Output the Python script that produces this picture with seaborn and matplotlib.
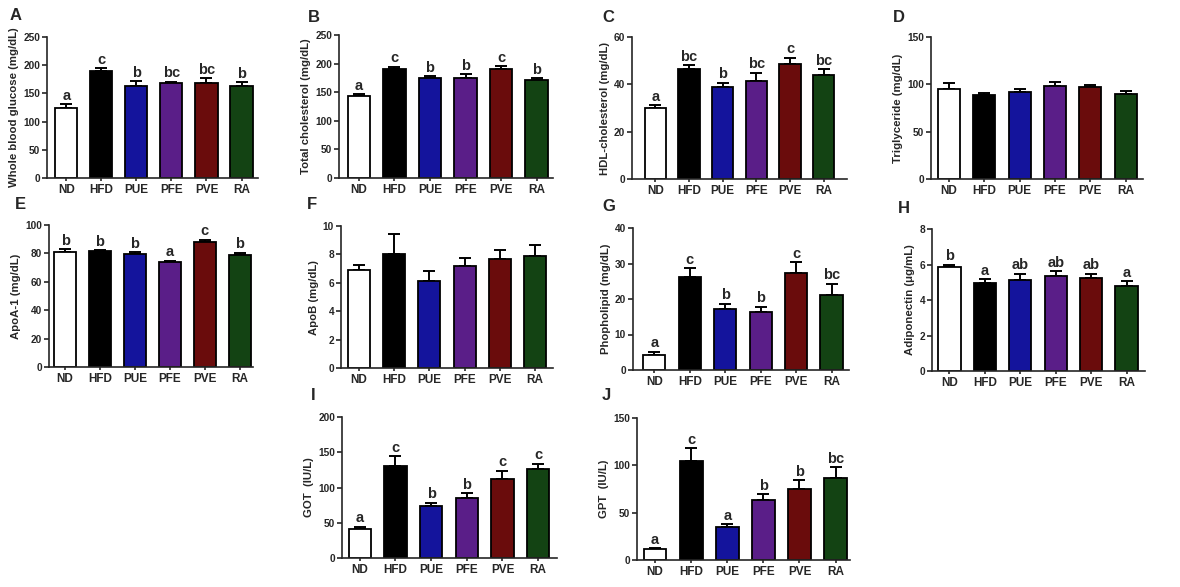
"""
Serum biochemistry panels (A-J) for ND / HFD / extract groups.
Bar = mean, upper error bar = SEM, letters = significance groups.
"""

import pandas as pd
import seaborn as sns
import matplotlib.pyplot as plt


# -------- Data -------- #

groups = ["ND", "HFD", "PUE", "PFE", "PVE", "RA"]
bar_colors = ["#ffffff", "#000000", "#14149c", "#5a1e88", "#6a0c0c", "#134313"]

glucose_mean = [124, 190, 164, 169, 168, 164]
glucose_sem = [6.6, 5, 8, 2, 9, 6]
glucose_sig = ["a", "c", "b", "bc", "bc", "b"]

tc_mean = [142.5, 190, 175, 175, 190, 172]
tc_sem = [4.5, 4.5, 3, 7, 5, 3]
tc_sig = ["a", "c", "b", "b", "c", "b"]

hdl_mean = [30.1, 46.3, 39.0, 41.4, 48.8, 44.0]
hdl_sem = [1.2, 1.7, 1.7, 3.5, 2.5, 2.4]
hdl_sig = ["a", "bc", "b", "bc", "c", "bc"]

tg_mean = [95.5, 88.5, 92.0, 98.3, 97.3, 89.6]
tg_sem = [5.5, 2.1, 3.2, 3.9, 2.1, 3.4]

apoa1_mean = [81.0, 81.4, 79.5, 73.9, 88.0, 78.6]
apoa1_sem = [1.8, 0.7, 1.5, 1.1, 1.6, 1.9]
apoa1_sig = ["b", "b", "b", "a", "c", "b"]

apob_mean = [6.92, 8.0, 6.13, 7.16, 7.7, 7.89]
apob_sem = [0.31, 1.41, 0.7, 0.56, 0.63, 0.75]

pl_mean = [4.2, 26.2, 17.3, 16.2, 27.3, 21.2]
pl_sem = [0.95, 2.4, 1.4, 1.6, 3.1, 3.1]
pl_sig = ["a", "c", "b", "b", "c", "bc"]

adipo_mean = [5.88, 4.98, 5.13, 5.37, 5.26, 4.79]
adipo_sem = [0.11, 0.18, 0.35, 0.24, 0.22, 0.28]
adipo_sig = ["b", "a", "ab", "ab", "ab", "a"]

got_mean = [41.6, 130, 73.3, 85, 111.6, 126.7]
got_sem = [2.8, 14, 5.2, 7, 12.4, 7.1]
got_sig = ["a", "c", "b", "b", "c", "c"]

gpt_mean = [11.6, 104.8, 34.6, 63.5, 74.8, 86.8]
gpt_sem = [0.8, 13.1, 3.2, 5.7, 9.6, 11.0]
gpt_sig = ["a", "c", "a", "b", "b", "bc"]


# -------- Layout (pixel boxes: left, right, top, bottom) -------- #

W, H = 1180, 587

panels = [
    # letter, mean, sem, sig, ylabel, ymax, ystep, box, xlim, letter pos
    ("A", glucose_mean, glucose_sem, glucose_sig, "Whole blood glucose (mg/dL)", 250, 50,
     (47, 258, 37, 178), (-0.55, 5.47), (10, 16)),
    ("B", tc_mean, tc_sem, tc_sig, "Total cholesterol (mg/dL)", 250, 50,
     (339, 553, 35, 178), (-0.56, 5.46), (308, 17)),
    ("C", hdl_mean, hdl_sem, hdl_sig, "HDL-cholesterol (mg/dL)", 60, 20,
     (632, 847, 37, 179), (-0.69, 5.69), (602, 17)),
    ("D", tg_mean, tg_sem, None, "Triglyceride (mg/dL)", 150, 50,
     (931, 1143, 37, 179), (-0.51, 5.49), (893, 17)),
    ("E", apoa1_mean, apoa1_sem, apoa1_sig, "ApoA-1 (mg/dL)", 100, 20,
     (49, 253, 225, 367), (-0.46, 5.38), (15, 205)),
    ("F", apob_mean, apob_sem, None, "ApoB (mg/dL)", 10, 2,
     (341, 553, 226, 368), (-0.51, 5.51), (307, 205)),
    ("G", pl_mean, pl_sem, pl_sig, "Phopholipid (mg/dL)", 40, 10,
     (633, 849, 228, 370), (-0.6, 5.49), (602, 206)),
    ("H", adipo_mean, adipo_sem, adipo_sig, "Adiponectin (\u03bcg/mL)", 8, 2,
     (932, 1145, 229, 371), (-0.49, 5.52), (898, 208)),
    ("I", got_mean, got_sem, got_sig, "GOT  (IU/L)", 200, 50,
     (342, 557, 417, 558), (-0.5, 5.53), (311, 396)),
    ("J", gpt_mean, gpt_sem, gpt_sig, "GPT  (IU/L)", 150, 50,
     (637, 850, 418, 560), (-0.5, 5.4), (602, 396)),
]


# -------- Plot -------- #

sns.set_theme(style="ticks")
plt.rcParams["font.family"] = ["Liberation Sans", "DejaVu Sans"]
plt.rcParams["axes.linewidth"] = 1.2

fig = plt.figure(figsize=(W / 100, H / 100), dpi=100)
fig.patch.set_facecolor("white")

for letter, mean, sem, sig, ylabel, ymax, ystep, box, xlim, lpos in panels:
    l, r, t, b = box
    ax = fig.add_axes([l / W, 1 - b / H, (r - l) / W, (b - t) / H])
    df = pd.DataFrame({"group": groups, "value": mean})

    sns.barplot(data=df, x="group", y="value", hue="group", palette=bar_colors,
                saturation=1, width=0.63, edgecolor="black", linewidth=1.3,
                errorbar=None, legend=False, ax=ax, zorder=2)

    # upper-only SEM bars
    ax.errorbar(range(len(groups)), mean, yerr=[[0] * len(sem), sem], fmt="none",
                ecolor="black", elinewidth=1.4, capsize=4.5, capthick=1.4, zorder=1)

    if sig:
        for i, s in enumerate(sig):
            ax.annotate(s, (i, mean[i] + sem[i]), xytext=(0, 1), textcoords="offset points",
                        ha="center", va="bottom", fontsize=10.5, fontweight="bold")

    ax.set_ylim(0, ymax)
    ax.set_yticks(range(0, ymax + 1, ystep))
    ax.set_xlim(*xlim)
    ax.set_xlabel("")
    ax.set_ylabel(ylabel, fontsize=8.2, fontweight="bold", labelpad=3)
    ax.tick_params(axis="y", labelsize=7.3, width=1.2, length=3.5, pad=1.5)
    ax.tick_params(axis="x", labelsize=8.5, width=1.2, length=2.5, pad=2)
    for lab in ax.get_xticklabels() + ax.get_yticklabels():
        lab.set_fontweight("bold")
    ax.set_facecolor("white")
    sns.despine(ax=ax)

    fig.text(lpos[0] / W, 1 - lpos[1] / H, letter, fontsize=12, fontweight="bold",
             ha="left", va="center")

plt.savefig("out.png", dpi=100, facecolor="white")
plt.close()
